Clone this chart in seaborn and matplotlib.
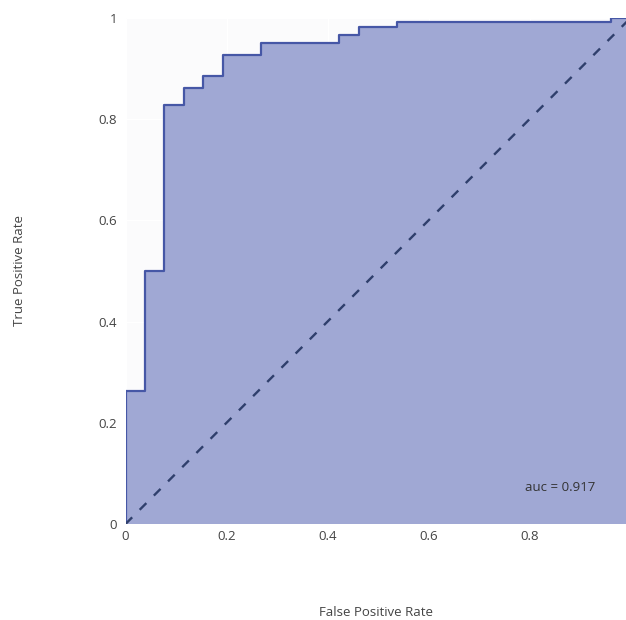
import matplotlib.pyplot as plt
import seaborn as sns
import pandas as pd
from matplotlib.ticker import FuncFormatter

# ROC points (26 negatives -> fpr in steps of 1/26)
fpr = [0, 0, 1/26, 2/26, 3/26, 4/26, 5/26, 7/26, 11/26, 12/26, 14/26, 25/26, 1]
tpr = [0, 0.263, 0.5, 0.828, 0.862, 0.885, 0.927, 0.951, 0.966, 0.982, 0.992, 1.0, 1.0]
diag_x = [0, 1]
diag_y = [0, 1]
auc_label = "auc = 0.917"
ticks = [0, 0.2, 0.4, 0.6, 0.8, 1]

sns.set_theme(style="white")
plt.rcParams['font.family'] = ['Open Sans', 'DejaVu Sans']

df = pd.DataFrame({"fpr": fpr, "tpr": tpr})
diag = pd.DataFrame({"x": diag_x, "y": diag_y})

fig = plt.figure(figsize=(6.26, 6.2), dpi=100)
ax = fig.add_axes([125.5 / 626, 96 / 620, 500.5 / 626, 506 / 620])
ax.set_facecolor("#fbfbfc")

ax.fill_between(df["fpr"], df["tpr"], step="post", color="#a0a8d4", linewidth=0, zorder=1)
sns.lineplot(data=df, x="fpr", y="tpr", sort=False, estimator=None, ax=ax,
             drawstyle="steps-post", color="#4657a6", linewidth=1.6, zorder=3)
sns.lineplot(data=diag, x="x", y="y", sort=False, estimator=None, ax=ax,
             color="#2f3f6c", linewidth=1.7, linestyle=(0, (4, 4.5)), zorder=3)

ax.set_xlim(0, 500.5 / 505)
ax.set_ylim(0, 1)
ax.set_xticks(ticks[:-1])
ax.set_yticks(ticks)
fmt = FuncFormatter(lambda v, p: f"{v:g}")
ax.xaxis.set_major_formatter(fmt)
ax.yaxis.set_major_formatter(fmt)
ax.grid(True, color="white", linewidth=1)
ax.set_axisbelow(True)
for s in ax.spines.values():
    s.set_visible(False)
ax.tick_params(axis="both", length=0, labelsize=9.5, colors="#444444")
ax.tick_params(axis="x", pad=4)
ax.tick_params(axis="y", pad=6)

ax.text(0.86, 0.073, auc_label, ha="center", va="center", fontsize=9.5, color="#333333", zorder=4)

ax.set_xlabel("False Positive Rate", fontsize=9.5, color="#444444", va="center")
ax.set_ylabel("True Positive Rate", fontsize=9.5, color="#444444", va="center", ha="center")
ax.xaxis.set_label_coords(0.5, -0.174)
ax.yaxis.set_label_coords(-0.211, 0.5)

fig.savefig("out.png", dpi=100)
